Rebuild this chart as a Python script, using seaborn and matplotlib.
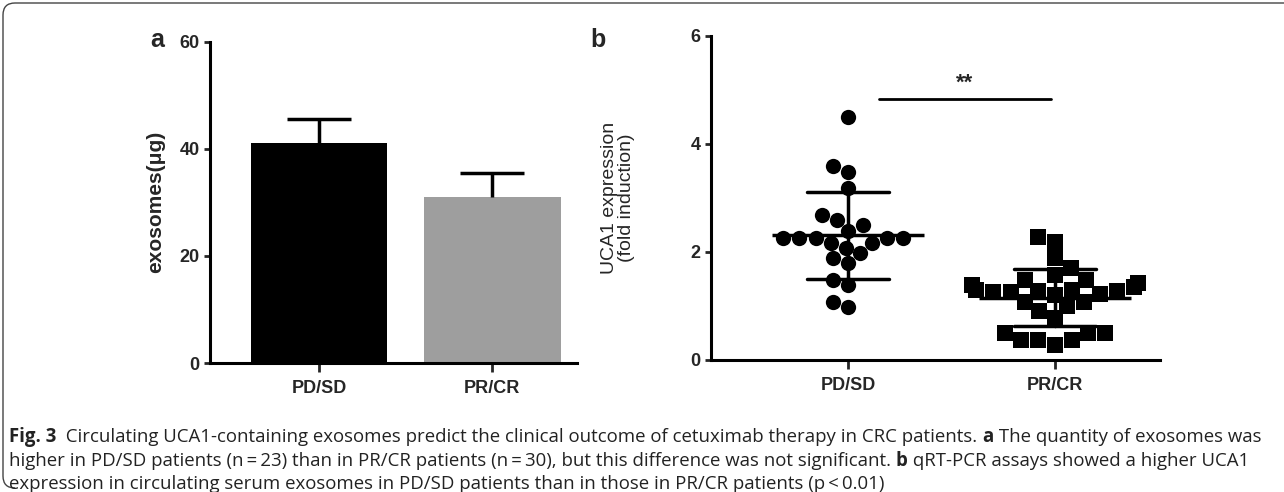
import pandas as pd
import seaborn as sns
import matplotlib.pyplot as plt
from matplotlib.path import Path
from matplotlib.patches import PathPatch

# panel a: exosome quantity (mean with upper error)
groups = ["PD/SD", "PR/CR"]
exo_mean = [41.0, 31.0]
exo_err = [4.5, 4.4]
bar_colors = ["#000000", "#9e9e9e"]

# panel b: UCA1 expression per patient
pd_sd_vals = [4.50, 3.47, 3.58, 3.18, 2.59, 2.69, 2.38, 2.49, 2.25, 2.25, 2.25,
              2.25, 2.25, 2.17, 2.17, 1.97, 2.07, 1.88, 1.79, 1.48, 1.38, 0.98, 1.08]
pr_cr_vals = [2.28, 2.19, 1.88, 1.70, 1.48, 1.39, 1.48, 1.35, 1.57, 1.42,
              1.30, 1.28, 1.26, 1.30, 1.28, 1.26, 1.22, 1.20, 1.08, 1.08,
              0.90, 0.99, 0.77, 0.49, 0.49, 0.49, 0.37, 0.37, 0.37, 0.28]

caption_parts = [
    [("Fig. 3", "bold"), ("  Circulating UCA1-containing exosomes predict the clinical outcome of cetuximab therapy in CRC patients. ", "normal"),
     ("a", "bold"), (" The quantity of exosomes was", "normal")],
    [("higher in PD/SD patients (n\u2009=\u200923) than in PR/CR patients (n\u2009=\u200930), but this difference was not significant. ", "normal"),
     ("b", "bold"), (" qRT-PCR assays showed a higher UCA1", "normal")],
    [("expression in circulating serum exosomes in PD/SD patients than in those in PR/CR patients (p\u2009<\u20090.01)", "normal")],
]

sns.set_style("ticks")
plt.rcParams['font.family'] = ['Liberation Sans', 'DejaVu Sans']

W, H = 1284, 492
fig = plt.figure(figsize=(W / 100, H / 100), dpi=100)


def style_axes(ax):
    for side in ["top", "right"]:
        ax.spines[side].set_visible(False)
    for side in ["left", "bottom"]:
        ax.spines[side].set_linewidth(2.2)
        ax.spines[side].set_color("black")
    ax.tick_params(axis="y", length=4.5, width=2, labelsize=13, pad=3)
    ax.tick_params(axis="x", length=6.5, width=2, labelsize=13, pad=6)
    for lab in ax.get_xticklabels() + ax.get_yticklabels():
        lab.set_fontweight("bold")


# ---- panel a
ax1 = fig.add_axes([210 / W, 1 - 363 / H, (577 - 210) / W, (363 - 41.7) / H])
df_a = pd.DataFrame({"group": groups, "mean": exo_mean, "err": exo_err})
sns.barplot(data=df_a, x="group", y="mean", hue="group", palette=bar_colors,
            width=0.79, legend=False, ax=ax1, linewidth=0)
_, caps, _ = ax1.errorbar(range(len(groups)), df_a["mean"],
                          yerr=[[0] * len(groups), df_a["err"]],
                          fmt="none", ecolor="black", elinewidth=2.5,
                          capsize=23, capthick=2.5)
caps[0].set_visible(False)  # only the upper cap, as in the figure
ax1.set_xlim(-0.63, 1.49)
ax1.set_ylim(0, 60)
ax1.set_yticks([0, 20, 40, 60])
ax1.set_xlabel("")
ax1.set_ylabel("exosomes(\u03bcg)", fontsize=15, fontweight="bold", labelpad=10)
style_axes(ax1)
fig.text(150 / W, 1 - 40 / H, "a", fontsize=18, fontweight="bold", va="center")

# ---- panel b
ax2 = fig.add_axes([711 / W, 1 - 360 / H, (1160 - 711) / W, (360 - 35.5) / H])
df_b = pd.DataFrame({
    "group": ["PD/SD"] * len(pd_sd_vals) + ["PR/CR"] * len(pr_cr_vals),
    "val": pd_sd_vals + pr_cr_vals,
})
sns.swarmplot(data=df_b[df_b.group == "PD/SD"], x="group", y="val", order=groups,
              color="black", marker="o", size=11, linewidth=0, ax=ax2)
sns.swarmplot(data=df_b[df_b.group == "PR/CR"], x="group", y="val", order=groups,
              color="black", marker="s", size=12, linewidth=0, ax=ax2)
sns.pointplot(data=df_b, x="group", y="val", order=groups, errorbar="sd",
              capsize=0.4, linestyle="none", marker="_", markersize=109,
              markeredgewidth=2.5, color="black", err_kws={"linewidth": 2.5}, ax=ax2)
ax2.plot([0.15, 0.98], [4.83, 4.83], color="black", lw=2)
ax2.text(0.565, 5.12, "**", ha="center", va="center", fontsize=16, fontweight="bold")
ax2.set_xlim(-0.662, 1.507)
ax2.set_ylim(0, 6)
ax2.set_yticks([0, 2, 4, 6])
ax2.set_xlabel("")
ax2.set_ylabel("UCA1 expression\n(fold induction)", fontsize=14, labelpad=40,
               linespacing=1.0)
style_axes(ax2)
fig.text(590 / W, 1 - 40 / H, "b", fontsize=18, fontweight="bold", va="center")

# ---- frame around figure (top and left edges, rounded corners)
r = 12
verts = [(W, H - 3), (3 + r, H - 3), (3, H - 3), (3, H - 3 - r),
         (3, 4 + r), (3, 4), (3 + r, 4)]
codes = [Path.MOVETO, Path.LINETO, Path.CURVE3, Path.CURVE3,
         Path.LINETO, Path.CURVE3, Path.CURVE3]
frame = PathPatch(Path([(x / W, y / H) for x, y in verts], codes),
                  transform=fig.transFigure, fill=False, edgecolor="#444444", lw=1)
fig.add_artist(frame)

# ---- caption, built from bold / regular pieces
cap_font = ['Open Sans', 'DejaVu Sans']
line_y = [437, 461, 484]
for parts, y in zip(caption_parts, line_y):
    last = None
    for txt, weight in parts:
        if last is None:
            last = fig.text(9 / W, 1 - y / H, txt, fontsize=13.4, family=cap_font,
                            fontweight=weight, color="#222222", va="center", ha="left")
        else:
            last = fig.add_artist(plt.Annotation(
                txt, xy=(1, 0.5), xycoords=last, fontsize=13.4, family=cap_font,
                fontweight=weight, color="#222222", va="center", ha="left",
                annotation_clip=False))

fig.savefig("out.png", dpi=100)
